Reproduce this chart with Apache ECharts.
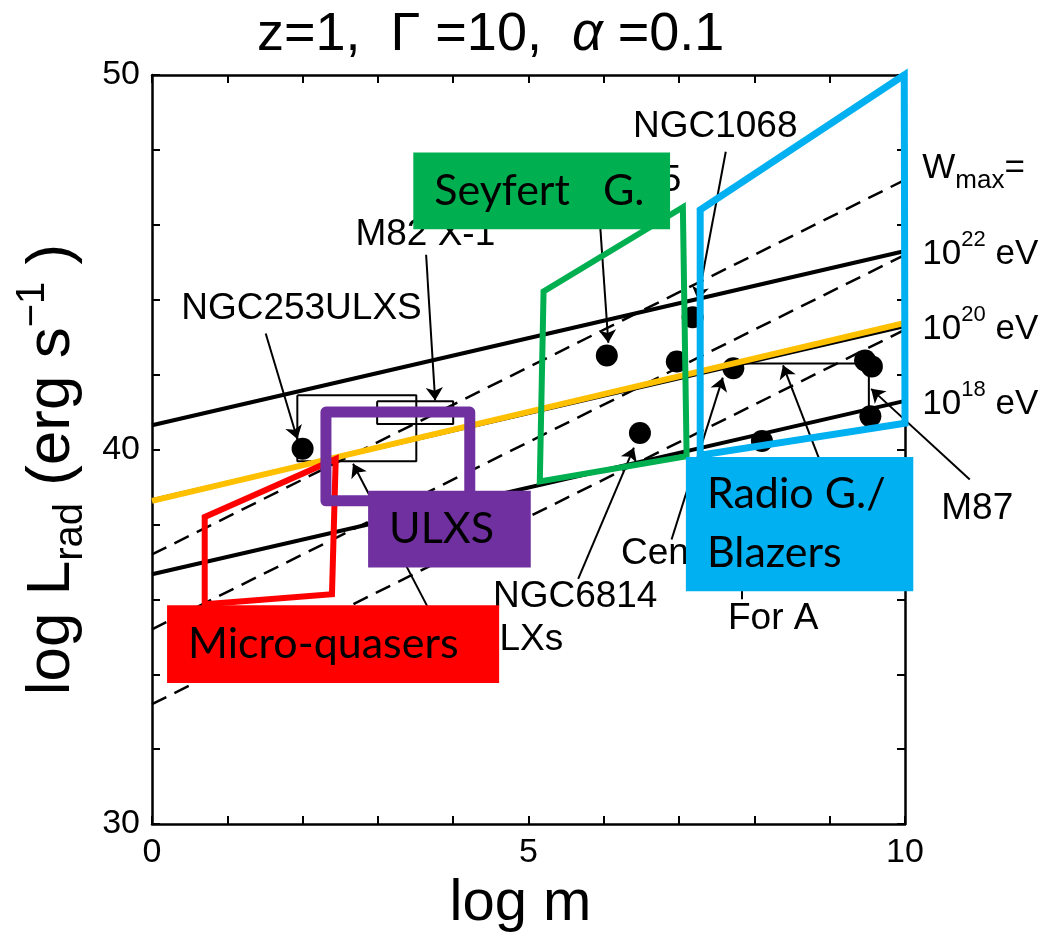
<!DOCTYPE html>
<html><head><meta charset="utf-8">
<script src="https://cdn.jsdelivr.net/npm/echarts@6/dist/echarts.min.js"></script>
<style>html,body{margin:0;padding:0;background:#fff}#c{width:1053px;height:938px}</style>
</head><body><div id="c"></div>
<script>
// ---- data ----
const xTickLabels = [0, 5, 10];
const yTickLabels = [30, 40, 50];

// W_max solid lines (10^22, 10^20, 10^18 eV)
const wmaxNames = ['22', '20', '18'];
const solidStartY = [40.65, 38.65, 36.67];
const solidEndY   = [45.30, 43.30, 41.30];
// dashed lines
const dashStartY = [37.2, 35.2, 33.2];
const dashEndY   = [47.2, 45.2, 43.2];
// orange highlighted line
const orangeLine = [[0, 38.63], [10, 43.38]];

// objects (filled circles)
const objX = [2.00, 6.04, 6.97, 7.18, 6.48, 7.72, 9.47, 9.56, 9.54, 8.10];
const objY = [40.02, 42.51, 42.35, 43.53, 40.44, 42.17, 42.38, 42.22, 40.89, 40.23];

// thin boxes / brackets
const ulxBox = [[1.93, 41.45], [3.51, 41.45], [3.51, 39.69], [1.93, 39.69], [1.93, 41.45]];
const m82Box = [[2.99, 41.29], [4.00, 41.29], [4.00, 40.68], [2.99, 40.68], [2.99, 41.29]];
const radioBracket = [[7.72, 42.30], [9.52, 42.30], [9.52, 40.89]];

// annotation arrows [x1,y1,x2,y2]
const arrows = [
  [1.51, 43.10, 1.93, 40.28],
  [3.64, 45.20, 3.76, 41.31],
  [5.93, 46.60, 6.06, 42.85],
  [7.62, 47.95, 7.25, 44.00],
  [5.66, 36.55, 6.40, 40.05],
  [3.66, 35.80, 2.67, 39.62],
  [6.90, 37.60, 7.58, 41.92],
  [9.10, 38.50, 8.38, 42.25],
  [10.86, 39.20, 9.55, 41.62]
];
const plainLines = [[7.83, 36.00, 7.83, 37.20]];

// annotation texts
const annoText = ['NGC253ULXS', 'M82 X-1', 'MCG-6-30-15', 'NGC1068', 'NGC6814', 'ULXs', 'Cen A', 'For A', 'M87'];
const annoX = [1.985, 3.63, 7.03, 7.48, 5.62, 4.86, 6.91, 8.25, 10.96];
const annoY = [43.77, 45.74, 47.17, 48.63, 36.06, 34.93, 37.21, 35.48, 38.43];
const annoRight = [false, false, true, false, false, false, false, false, false];

// W_max labels
const wLabelX = 10.23;
const wHeadY = 47.50;
const wLabelY = [45.21, 43.21, 41.22];

// coloured class regions
const regionNames = ['Micro-quasers', 'ULXS', 'Seyfert   G.', 'Radio G./\nBlazers'];
const regionColors = ['#FF0000', '#7030A0', '#00B050', '#00B0F0'];
const regionWidths = [6, 11, 6, 7];
const regionPolys = [
  [[0.70, 38.20], [2.44, 39.75], [2.39, 36.14], [0.70, 35.87]],
  [[2.31, 41.00], [4.22, 41.00], [4.22, 38.63], [2.31, 38.63]],
  [[5.20, 44.22], [7.05, 46.47], [7.10, 39.82], [5.15, 39.15]],
  [[7.28, 46.40], [9.99, 50.00], [10.00, 40.70], [7.28, 39.85]]
];
// label boxes [x1, yTop, x2, yBottom]
const regionBoxes = [
  [0.20, 35.84, 4.61, 33.77],
  [2.87, 38.90, 5.03, 36.85],
  [3.47, 47.93, 6.88, 45.88],
  [7.09, 39.80, 10.11, 36.22]
];

// ---- chart ----
const black = '#000';
const sansFont = "'Liberation Sans', Arial, Helvetica, sans-serif";
const boxFont = "Lato, 'Open Sans', sans-serif";
const series = [];

solidStartY.forEach((y0, i) => {
  series.push({type: 'line', z: 2, symbol: 'none', silent: true, clip: false,
    lineStyle: {color: black, width: 4},
    data: [[0, y0], [10, solidEndY[i]]]});
});
dashStartY.forEach((y0, i) => {
  series.push({type: 'line', z: 2, symbol: 'none', silent: true, clip: false,
    lineStyle: {color: black, width: 2.5, type: [16, 9]},
    data: [[0, y0], [10, dashEndY[i]]]});
});
[ulxBox, m82Box, radioBracket].forEach(d => {
  series.push({type: 'line', z: 2, symbol: 'none', silent: true, clip: false,
    lineStyle: {color: black, width: 2}, data: d});
});
series.push({type: 'scatter', z: 2, symbol: 'circle', symbolSize: 22, silent: true,
  itemStyle: {color: black, opacity: 1}, data: objX.map((x, i) => [x, objY[i]])});
series.push({type: 'lines', coordinateSystem: 'cartesian2d', z: 2, silent: true, clip: false,
  symbol: ['none', 'arrow'], symbolSize: 13,
  lineStyle: {color: black, width: 2, opacity: 1, curveness: 0},
  data: arrows.map(a => ({coords: [[a[0], a[1]], [a[2], a[3]]]}))});
series.push({type: 'lines', coordinateSystem: 'cartesian2d', z: 2, silent: true, clip: false,
  symbol: ['none', 'none'],
  lineStyle: {color: black, width: 2, opacity: 1},
  data: plainLines.map(a => ({coords: [[a[0], a[1]], [a[2], a[3]]]}))});
series.push({type: 'custom', z: 2, silent: true, clip: false,
  data: annoText.map((t, i) => [annoX[i], annoY[i]]),
  renderItem: (params, api) => {
    const p = api.coord([api.value(0), api.value(1)]);
    return {type: 'text', style: {text: annoText[params.dataIndex], x: p[0], y: p[1],
      align: annoRight[params.dataIndex] ? 'right' : 'center', verticalAlign: 'middle',
      fontFamily: sansFont, fontSize: 37, fill: black}};
  }});
// W_max labels
const wRich = {
  b: {fontFamily: sansFont, fontSize: 35, color: black, lineHeight: 50, verticalAlign: 'middle'},
  s: {fontFamily: sansFont, fontSize: 22, color: black, lineHeight: 22, verticalAlign: 'top'},
  m: {fontFamily: sansFont, fontSize: 26, color: black, lineHeight: 26, verticalAlign: 'bottom'}
};
series.push({type: 'custom', z: 2, silent: true, clip: false,
  data: [[wLabelX, wHeadY]].concat(wLabelY.map(y => [wLabelX, y])),
  renderItem: (params, api) => {
    const p = api.coord([api.value(0), api.value(1)]);
    const i = params.dataIndex;
    const txt = i === 0 ? '{b|W}{m|max}{b|=}' : '{b|10}{s|' + wmaxNames[i - 1] + '}{b| eV}';
    return {type: 'text', style: {text: txt, rich: wRich, x: p[0], y: p[1],
      align: 'left', verticalAlign: 'middle', fill: black}};
  }});
// orange line and coloured regions
series.push({type: 'line', z: 3, symbol: 'none', silent: true, clip: false,
  lineStyle: {color: '#FFC000', width: 6}, data: orangeLine});
regionPolys.forEach((poly, i) => {
  series.push({type: 'line', z: 3, symbol: 'none', silent: true, clip: false,
    lineStyle: {color: regionColors[i], width: regionWidths[i], join: i === 1 ? 'round' : 'miter', cap: 'round'},
    data: poly.concat([poly[0], poly[1]])});
});
// label boxes
series.push({type: 'custom', z: 4, silent: true, clip: false,
  data: regionBoxes,
  renderItem: (params, api) => {
    const i = params.dataIndex;
    const a = api.coord([api.value(0), api.value(1)]);
    const b = api.coord([api.value(2), api.value(3)]);
    return {type: 'group', children: [
      {type: 'rect', shape: {x: a[0], y: a[1], width: b[0] - a[0], height: b[1] - a[1]},
        style: {fill: regionColors[i]}},
      {type: 'text', style: {text: regionNames[i], x: a[0] + 21, y: (a[1] + b[1]) / 2,
        align: 'left', verticalAlign: 'middle', fontFamily: boxFont, fontSize: 43,
        lineHeight: 59, fill: black}}
    ]};
  }});

const axisCommon = {
  type: 'value', splitLine: {show: false},
  axisLine: {show: true, onZero: false, lineStyle: {color: black, width: 2.5}},
  axisTick: {show: true, inside: true, length: 8, lineStyle: {color: black, width: 2}}
};

const option = {
  animation: false,
  backgroundColor: '#fff',
  title: {
    text: '{n|z=1,  Γ =10,  }{i|α}{n| =0.1}',
    left: 252, top: 3,
    textStyle: {fontWeight: 'normal', rich: {
      n: {fontFamily: sansFont, fontSize: 54, fontWeight: 'normal', color: black},
      i: {fontFamily: sansFont, fontSize: 54, fontWeight: 'normal', fontStyle: 'italic', color: black}
    }}
  },
  grid: {left: 152, right: 148, top: 75, bottom: 109},
  xAxis: [
    Object.assign({}, axisCommon, {min: 0, max: 10, interval: 1, position: 'bottom',
      name: 'log m', nameLocation: 'middle', nameGap: 8,
      nameTextStyle: {fontFamily: sansFont, fontSize: 58, color: black, padding: [0, 16, 0, 0]},
      axisLabel: {fontFamily: sansFont, fontSize: 34, color: black, margin: 12,
        formatter: v => xTickLabels.includes(v) ? String(v) : ''}}),
    Object.assign({}, axisCommon, {min: 0, max: 10, interval: 1, position: 'top',
      axisLabel: {show: false}})
  ],
  yAxis: [
    Object.assign({}, axisCommon, {min: 30, max: 50, interval: 2, position: 'left',
      name: '{n|log L}{sub|rad}{n| (erg s}{sup|−1}{n| )}',
      nameLocation: 'middle', nameGap: 53, nameRotate: 90,
      nameTextStyle: {padding: [0, 40, 0, 0], rich: {
        n: {fontFamily: sansFont, fontSize: 62, color: black, lineHeight: 78},
        sub: {fontFamily: sansFont, fontSize: 40, color: black, lineHeight: 40, verticalAlign: 'bottom'},
        sup: {fontFamily: sansFont, fontSize: 40, color: black, lineHeight: 40, verticalAlign: 'top'}
      }},
      axisLabel: {fontFamily: sansFont, fontSize: 34, color: black, margin: 12,
        formatter: v => yTickLabels.includes(v) ? String(v) : ''}}),
    Object.assign({}, axisCommon, {min: 30, max: 50, interval: 2, position: 'right',
      axisLabel: {show: false}})
  ],
  series: series
};
const chart = echarts.init(document.getElementById('c'), null, {renderer: 'canvas'});
chart.setOption(option);
</script>
</body></html>
